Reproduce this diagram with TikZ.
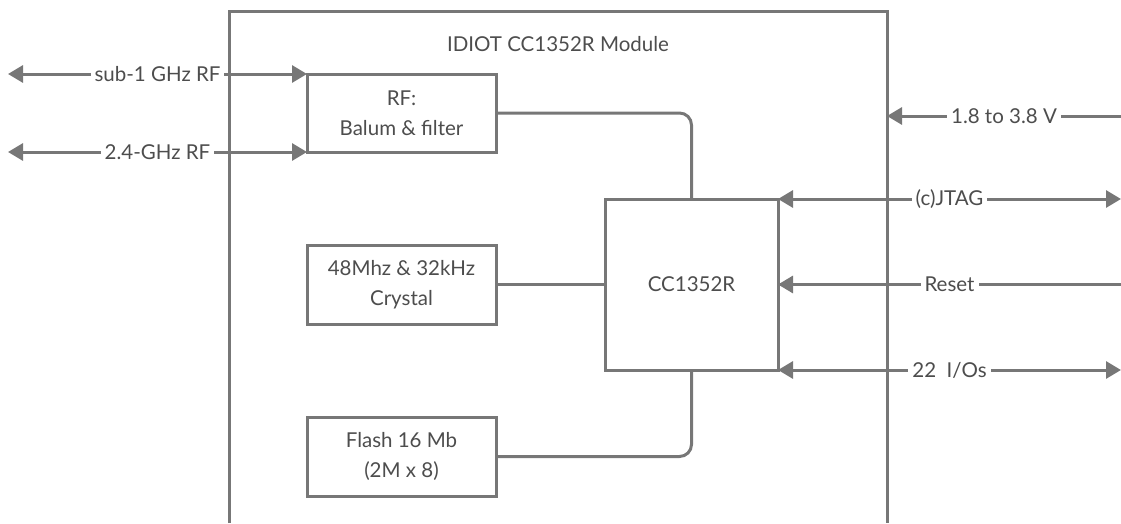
\documentclass[tikz,border=0pt]{standalone}
\usepackage{fontspec}
\setmainfont{Lato}
\usetikzlibrary{arrows.meta}
\definecolor{lc}{HTML}{777777}
\definecolor{tc}{HTML}{4D4D4D}
\begin{document}
\begin{tikzpicture}[x=1pt,y=-1pt,
  every node/.style={text=tc,font=\fontsize{20.5}{30.5}\selectfont},
  blk/.style={draw=lc,line width=3pt,align=center,inner sep=0pt,outer sep=0pt,fill=white},
  conn/.style={draw=lc,line width=3pt},
  tipb/.style={{Triangle[length=15pt,width=17pt]}-{Triangle[length=15pt,width=17pt]}},
  tipl/.style={{Triangle[length=15pt,width=17pt]}-},
  lbl/.style={fill=white,inner sep=4pt}]
\useasboundingbox (0,0) rectangle (1121,523);
% blocks
\node[blk,minimum width=189pt,minimum height=78pt] (rf) at (401.5,113) {RF:\\Balum \& filter};
\node[blk,minimum width=189pt,minimum height=79pt] (xtal) at (401.5,284.5) {48Mhz \& 32kHz\\Crystal};
\node[blk,minimum width=189pt,minimum height=79pt] (flash) at (401.5,456.5) {Flash 16 Mb\\(2M x 8)};
\node[blk,minimum width=173pt,minimum height=171pt] (cc) at (691.5,284.5) {CC1352R};
% coordinates
\coordinate (m1) at (229,523);
\coordinate (m2) at (887,11);
\coordinate (m3) at (887,523);
\coordinate (s1) at (8,74);
\coordinate (s2) at (8,152);
\coordinate (vin) at (887,116);
\coordinate (vr) at (1121,116);
\coordinate (jr) at (1121,199);
\coordinate (rr) at (1121,284.5);
\coordinate (ir) at (1121,370);
% internal connectors
\draw[conn,rounded corners=12pt] (rf.east) -| (cc.north);
\draw[conn] (xtal.east) -- (cc.west);
\draw[conn,rounded corners=12pt] (flash.east) -| (cc.south);
% external connectors
\draw[conn,tipb] (s1) -- node[lbl]{sub-1 GHz RF} (rf.north west);
\draw[conn,tipb] (s2) -- node[lbl]{2.4-GHz RF} (rf.south west);
\draw[conn,tipl] (vin) -- node[lbl]{1.8 to 3.8 V} (vr);
\draw[conn,tipb] (cc.north east) -- node[lbl]{(c)JTAG} (jr);
\draw[conn,tipl] (cc.east) -- node[lbl]{Reset} (rr);
\draw[conn,tipb] (cc.south east) -- node[lbl]{22~ I/Os} (ir);
% module
\draw[conn] (m1) |- (m2) -- (m3);
\node (title) at (558,44) {IDIOT CC1352R Module};
\end{tikzpicture}
\end{document}
